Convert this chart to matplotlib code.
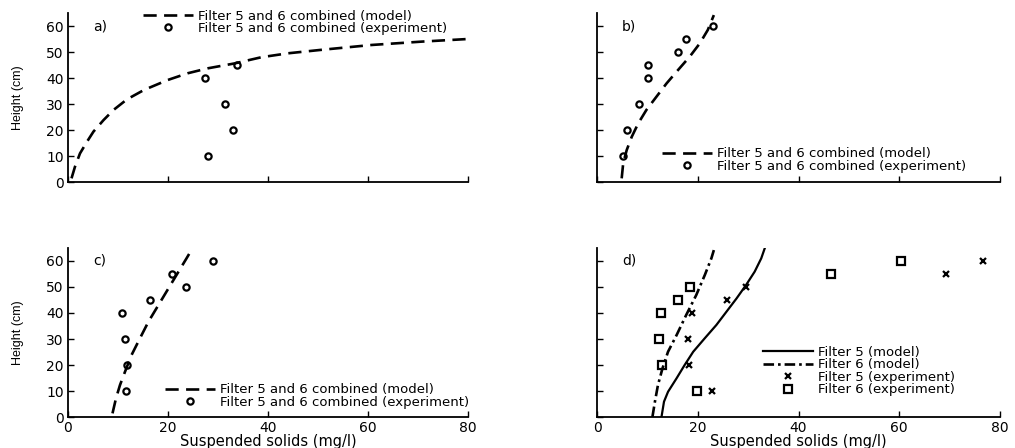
import matplotlib
matplotlib.use("Agg")
import matplotlib.pyplot as plt

# ---------------- data ----------------
heights_exp = [10, 20, 30, 40, 45, 50, 55, 60]

a_model_x = [0.7, 1.4, 2.4, 3.8, 5.1, 7.1, 9.1, 11.8, 15.2, 19.9, 23.9, 27.9, 33.3, 38.7,
             44.0, 50.5, 60.7, 70.8, 80.0]
a_model_y = [1.4, 5.9, 11.0, 15.5, 19.4, 23.8, 27.7, 31.8, 35.4, 39.2, 41.8, 43.7, 45.6, 48.0,
             49.5, 50.8, 52.7, 54.0, 55.0]
a_exp_x = [27.9, 33.0, 31.3, 27.4, 33.8]
a_exp_y = [10, 20, 30, 40, 45]

b_model_x = [4.9, 5.2, 5.9, 6.9, 8.2, 9.8, 11.8, 13.8, 16.1, 18.4, 20.4, 22.0, 23.2]
b_model_y = [1.4, 7.2, 12.3, 17.4, 22.6, 27.7, 32.8, 37.9, 43.1, 48.2, 53.3, 58.5, 64.2]
b_exp_x = [5.1, 6.0, 8.4, 10.2, 10.2, 16.0, 17.6, 23.0]

c_model_x = [8.9, 9.6, 10.4, 11.4, 12.7, 14.4, 16.1, 18.1, 20.1, 22.1, 23.7, 24.9]
c_model_y = [1.4, 7.2, 12.3, 17.4, 23.8, 30.3, 36.7, 43.1, 49.5, 55.9, 61.0, 64.9]
c_exp_x = [11.5, 11.7, 11.4, 10.7, 16.3, 23.6, 20.7, 29.0]

d_f5_model_x = [12.8, 13.3, 14.1, 15.8, 17.4, 19.1, 21.4, 23.7, 25.7, 27.7, 29.6, 31.3, 32.6, 33.3]
d_f5_model_y = [0.0, 5.9, 9.7, 14.9, 20.0, 25.1, 30.3, 35.4, 40.5, 45.6, 50.8, 55.9, 61.0, 64.9]
d_f6_model_x = [11.0, 11.5, 12.1, 13.0, 14.1, 15.8, 17.7, 19.7, 21.4, 22.7, 23.2]
d_f6_model_y = [0.0, 5.9, 12.3, 18.7, 25.1, 31.5, 39.2, 46.9, 54.6, 61.0, 64.2]
d_f5_exp_x = [22.9, 18.3, 18.1, 18.8, 25.8, 29.6, 69.3, 76.6]
d_f6_exp_x = [19.8, 13.0, 12.3, 12.8, 16.0, 18.5, 46.5, 60.3]

x_ticks = [0, 20, 40, 60, 80]
y_ticks = [0, 10, 20, 30, 40, 50, 60]

lab_model = "Filter 5 and 6 combined (model)"
lab_exp = "Filter 5 and 6 combined (experiment)"

# ---------------- figure ----------------
W, H = 1015, 448
fig = plt.figure(figsize=(W / 100, H / 100), dpi=100)

def px_axes(x0, x1, y_bottom, y_top):
    return fig.add_axes([x0 / W, 1 - y_bottom / H, (x1 - x0) / W, (y_bottom - y_top) / H])

ax_a = px_axes(68, 468, 182, 13)
ax_b = px_axes(597, 1000, 182, 13)
ax_c = px_axes(68, 468, 417, 248)
ax_d = px_axes(597, 1000, 417, 248)

leg_size = 9.5
dash_kw = dict(color="black", lw=1.9, dashes=(5, 2.8))
circ_kw = dict(ls="none", marker="o", ms=4.5, mfc="none", mec="black", mew=1.6)

def style(ax, left_labels, bottom_labels, tag):
    ax.set_xlim(0, 80)
    ax.set_ylim(0, 65)
    for s in ["top", "right"]:
        ax.spines[s].set_visible(False)
    for s in ["left", "bottom"]:
        ax.spines[s].set_linewidth(1.3)
    ax.set_xticks(x_ticks)
    ax.set_yticks(y_ticks)
    ax.tick_params(direction="in", length=4, width=1.0, pad=3,
                   labelleft=left_labels, labelbottom=bottom_labels)
    for t in ax.get_xticklabels() + ax.get_yticklabels():
        t.set_fontfamily("DejaVu Sans")
        t.set_fontsize(10)
    if left_labels:
        ax.set_ylabel("Height (cm)", family=["Liberation Sans Narrow", "Liberation Sans", "DejaVu Sans"],
                      fontsize=9, labelpad=16)
    if bottom_labels:
        ax.set_xlabel("Suspended solids (mg/l)", family="DejaVu Sans", fontsize=10.5, labelpad=-1)
    ax.text(5, 60, tag, family="DejaVu Sans", fontsize=10, va="center", ha="left")

def legend(ax, x, y):
    leg = ax.legend(loc="upper left", bbox_to_anchor=(x, y), frameon=False,
                    borderpad=0, borderaxespad=0, handlelength=3.8, handletextpad=0.4,
                    labelspacing=-0.04, prop=dict(family="DejaVu Sans", size=leg_size))
    return leg

# a)
ax_a.plot(a_model_x, a_model_y, label=lab_model, **dash_kw)
ax_a.plot(a_exp_x, a_exp_y, label=lab_exp, **circ_kw)
style(ax_a, True, False, "a)")
legend(ax_a, 0.1875, 1.02)

# b)
ax_b.plot(b_model_x, b_model_y, label=lab_model, **dash_kw)
ax_b.plot(b_exp_x, heights_exp, label=lab_exp, **circ_kw)
style(ax_b, False, False, "b)")
legend(ax_b, 0.161, 0.205)

# c)
ax_c.plot(c_model_x, c_model_y, label=lab_model, **dash_kw)
ax_c.plot(c_exp_x, heights_exp, label=lab_exp, **circ_kw)
style(ax_c, True, True, "c)")
legend(ax_c, 0.2425, 0.2)

# d)
ax_d.plot(d_f5_model_x, d_f5_model_y, color="black", lw=1.6, label="Filter 5 (model)")
ax_d.plot(d_f6_model_x, d_f6_model_y, color="black", lw=1.9, dashes=(4, 1.5, 1, 1.5),
          label="Filter 6 (model)")
ax_d.plot(d_f5_exp_x, heights_exp, ls="none", marker="x", ms=4, mew=1.6, color="black",
          label="Filter 5 (experiment)")
ax_d.plot(d_f6_exp_x, heights_exp, ls="none", marker="s", ms=5.5, mfc="none", mec="black",
          mew=1.6, label="Filter 6 (experiment)")
style(ax_d, False, True, "d)")
legend(ax_d, 0.412, 0.42)

fig.savefig("out.png", dpi=100)
